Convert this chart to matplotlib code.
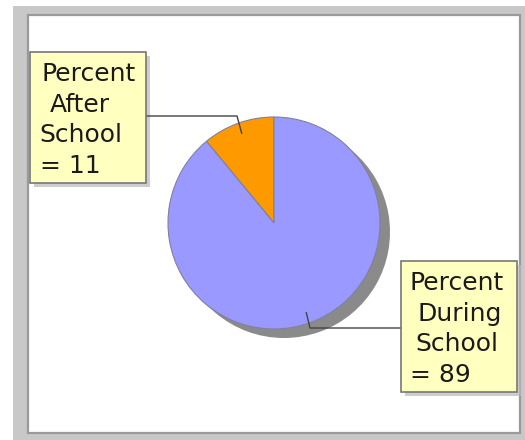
import matplotlib
matplotlib.use("Agg")
import matplotlib.pyplot as plt
from matplotlib.patches import Rectangle
import numpy as np

labels = ["Percent After School", "Percent During School"]
values = [11, 89]
colors = ["#ff9900", "#9999ff"]

W, H = 525, 440
fig = plt.figure(figsize=(W / 100, H / 100), dpi=100)
ax = fig.add_axes([0, 0, 1, 1])
ax.set_xlim(0, W)
ax.set_ylim(0, H)
ax.axis("off")


def py(y):
    # pixel row -> data y
    return H - y


# frame
ax.add_patch(Rectangle((13, 0), W - 13, py(6), fc="#c8c8c8", ec="none", zorder=0))
ax.add_patch(Rectangle((28, py(433)), 520 - 28, 433 - 15, fc="white",
                       ec="#9a9a9a", lw=1.6, zorder=1))

cx, cy, r = 274, py(223), 106

# shadow
ax.pie(values, colors=["#8a8a8a"] * 2, startangle=90, radius=r,
       center=(cx + 10, cy - 9), frame=True,
       wedgeprops=dict(linewidth=0, zorder=2))
wedges, _ = ax.pie(values, colors=colors, startangle=90, radius=r,
                   center=(cx, cy), frame=True,
                   wedgeprops=dict(linewidth=0.8, edgecolor="#8080a0"))
for w in wedges:
    w.set_zorder(3)
ax.set_xlim(0, W)
ax.set_ylim(0, H)
ax.axis("off")

# label boxes: (left, top, line x offsets, side)
boxes = [
    dict(x0=30, y0=52, offs=[12, 20, 9, 10], hook=(237, 116), edge=146),
    dict(x0=401, y0=261, offs=[9, 17, 14, 9], hook=(310, 328), edge=401),
]
bw, bh = 116, 131

for i, (lab, val) in enumerate(zip(labels, values)):
    b = boxes[i]
    ax.add_patch(Rectangle((b["x0"] + 4, py(b["y0"] + bh + 4)), bw, bh,
                           fc="#b8b8b8", ec="none", alpha=0.7, zorder=4))
    ax.add_patch(Rectangle((b["x0"], py(b["y0"] + bh)), bw, bh,
                           fc="#ffffc0", ec="#777777", lw=1.2, zorder=5))
    lines = lab.split() + ["= %d" % val]
    for j, line in enumerate(lines):
        ax.text(b["x0"] + b["offs"][j], py(b["y0"] + 29 + 30.5 * j), line,
                fontsize=18, family="DejaVu Sans", color="#1a1a1a",
                va="baseline", ha="left", zorder=6)

    # leader line
    w = wedges[i]
    mid = np.deg2rad((w.theta1 + w.theta2) / 2)
    px, pyy = cx + 0.9 * r * np.cos(mid), cy + 0.9 * r * np.sin(mid)
    hx, hy = b["hook"][0], py(b["hook"][1])
    ax.plot([px, hx, b["edge"]], [pyy, hy, hy], color="#444444", lw=1,
            zorder=4.5 if i == 0 else 4.5)

fig.savefig("out.png", dpi=100)
